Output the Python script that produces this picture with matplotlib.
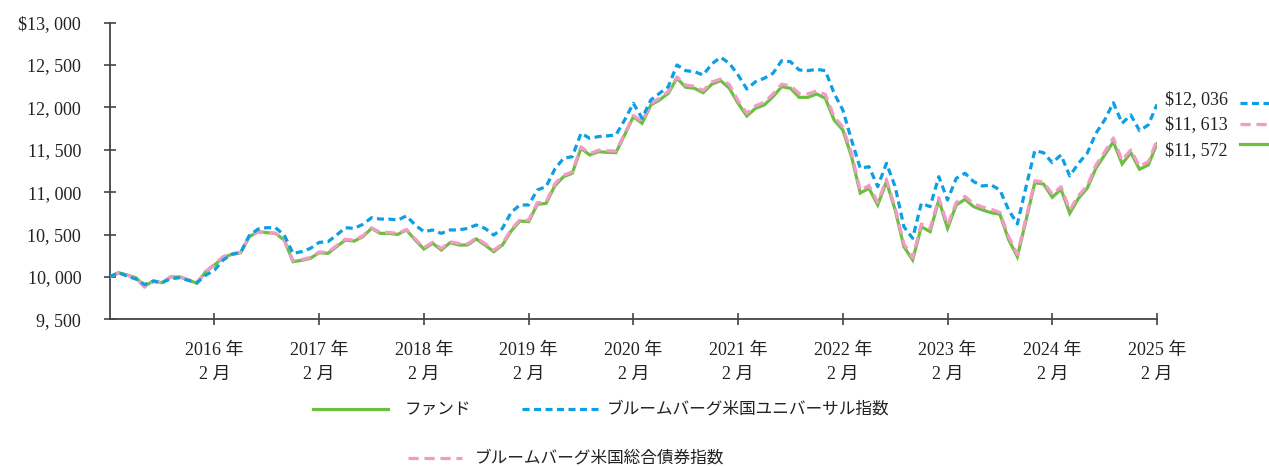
import numpy as np
import matplotlib
matplotlib.use("Agg")
import matplotlib.pyplot as plt
from matplotlib.lines import Line2D

# 月次データ (2015年2月 ~ 2025年2月)
fund = [10000, 10050, 10023, 9991, 9893, 9952, 9932, 10000, 10000, 9964,
        9925, 10062, 10141, 10227, 10267, 10286, 10475, 10534, 10522, 10514,
        10435, 10180, 10196, 10220, 10286, 10278, 10357, 10435, 10423, 10474,
        10573, 10514, 10514, 10502, 10554, 10436, 10330, 10397, 10318, 10404,
        10377, 10377, 10448, 10377, 10298, 10377, 10542, 10660, 10652, 10857,
        10868, 11075, 11183, 11223, 11518, 11439, 11478, 11470, 11466, 11675,
        11891, 11813, 12029, 12088, 12167, 12344, 12238, 12226, 12174, 12275,
        12316, 12226, 12049, 11899, 11990, 12029, 12127, 12245, 12226, 12119,
        12119, 12159, 12108, 11852, 11734, 11419, 10990, 11046, 10849, 11124,
        10790, 10357, 10200, 10593, 10534, 10908, 10574, 10849, 10916, 10829,
        10790, 10758, 10740, 10440, 10239, 10672, 11112, 11096, 10940, 11034,
        10751, 10928, 11046, 11282, 11439, 11596, 11333, 11466, 11270, 11321,
        11572]
aggregate = [10000, 10045, 10020, 9985, 9878, 9945, 9930, 10005, 10005, 9968,
             9935, 10065, 10150, 10240, 10275, 10290, 10480, 10530, 10525, 10515,
             10440, 10190, 10205, 10230, 10295, 10290, 10370, 10445, 10435, 10485,
             10580, 10525, 10525, 10515, 10560, 10450, 10345, 10410, 10335, 10415,
             10395, 10390, 10460, 10395, 10315, 10390, 10560, 10675, 10670, 10875,
             10885, 11100, 11200, 11240, 11535, 11455, 11495, 11490, 11485, 11690,
             11905, 11835, 12045, 12110, 12190, 12360, 12265, 12250, 12200, 12300,
             12335, 12270, 12080, 11930, 12020, 12060, 12160, 12275, 12255, 12165,
             12160, 12195, 12155, 11890, 11770, 11460, 11020, 11080, 10880, 11150,
             10815, 10390, 10225, 10625, 10570, 10935, 10610, 10880, 10950, 10865,
             10825, 10800, 10760, 10475, 10265, 10700, 11135, 11120, 10975, 11065,
             10790, 10960, 11075, 11320, 11475, 11640, 11375, 11500, 11305, 11360,
             11613]
universal = [10000, 10050, 10010, 9975, 9910, 9952, 9932, 9980, 9990, 9960,
             9932, 10020, 10080, 10200, 10267, 10286, 10490, 10565, 10581, 10581,
             10494, 10278, 10298, 10337, 10408, 10415, 10494, 10581, 10573, 10620,
             10699, 10683, 10683, 10671, 10720, 10613, 10534, 10554, 10514, 10554,
             10554, 10573, 10613, 10573, 10494, 10573, 10762, 10849, 10849, 11026,
             11065, 11272, 11400, 11419, 11695, 11636, 11656, 11664, 11675, 11852,
             12049, 11872, 12088, 12167, 12245, 12501, 12434, 12422, 12383, 12515,
             12592, 12521, 12383, 12218, 12304, 12344, 12403, 12552, 12540, 12442,
             12434, 12450, 12434, 12167, 11970, 11616, 11282, 11301, 11065, 11341,
             11065, 10593, 10456, 10869, 10829, 11183, 10908, 11164, 11223, 11124,
             11073, 11085, 11026, 10790, 10625, 11065, 11490, 11466, 11348, 11439,
             11191, 11341, 11459, 11695, 11852, 12056, 11813, 11911, 11726, 11793,
             12036]
end_labels = ["$12,036", "$11,613", "$11,572"]
years = list(range(2016, 2026))
y_ticks = [9500, 10000, 10500, 11000, 11500, 12000, 12500, 13000]

names = ["ファンド", "ブルームバーグ米国ユニバーサル指数", "ブルームバーグ米国総合債券指数"]

c_green = "#6cbf40"
c_blue = "#0c9fe4"
c_pink = "#f29bc6"
serif = ["Liberation Serif", "Noto Sans CJK JP"]
jp = ["Noto Sans CJK JP", "DejaVu Sans"]

fig = plt.figure(figsize=(12.69, 4.66), dpi=100)
ax = fig.add_axes([109.7 / 1269, 1 - 319.3 / 466, (1157 - 109.7) / 1269, (319.3 - 22.7) / 466])

x = np.arange(len(fund))
ax.plot(x, fund, color=c_green, lw=2.3, solid_joinstyle="miter", zorder=3)
l_pink, = ax.plot(x, aggregate, color=c_pink, lw=2.3, zorder=4)
l_pink.set_dashes((3.2, 1.8))
l_blue, = ax.plot(x, universal, color=c_blue, lw=2.3, zorder=5)
l_blue.set_dashes((2.2, 1.4))

ax.set_xlim(0, len(fund) - 1)
ax.set_ylim(9500, 13000)
ax.set_yticks(y_ticks)
ylabs = ["{:,}".format(v).replace(",", ", ") for v in y_ticks]
ylabs[-1] = "$" + ylabs[-1]
ax.set_yticklabels(ylabs, family=serif, fontsize=13, color="#222222")
ax.set_xticks([12 * (i + 1) for i in range(len(years))])
ax.set_xticklabels(["%d 年\n2 月" % y for y in years], family=serif, fontsize=13,
                   color="#222222", linespacing=1.55)

for s in ["top", "right"]:
    ax.spines[s].set_visible(False)
for s in ["left", "bottom"]:
    ax.spines[s].set_color("#444444")
    ax.spines[s].set_linewidth(1.3)
ax.tick_params(direction="inout", length=9, width=1.2, color="#444444")
ax.tick_params(axis="y", pad=16)
ax.tick_params(axis="x", pad=12)

# 右側の最終値ラベル
end_y = [100, 125, 151]
styles = [(c_blue, (2.2, 1.4)), (c_pink, (3.2, 1.8)), (c_green, None)]
sample_y = [103, 124, 144]
for lab, yy, sy, (col, dsh) in zip(end_labels, end_y, sample_y, styles):
    fig.text(1165 / 1269, 1 - yy / 466, lab.replace(",", ", "), family=serif,
             fontsize=13, color="#222222", va="center", ha="left")
    ln = Line2D([1240 / 1269, 1.0], [1 - sy / 466] * 2, transform=fig.transFigure,
                color=col, lw=2.3)
    if dsh:
        ln.set_dashes(dsh)
    fig.add_artist(ln)

# 凡例
leg = [(313, 388, 409, c_green, None, 405, names[0]),
       (522, 600, 409, c_blue, (2.2, 1.4), 607, names[1]),
       (408, 462, 458, c_pink, (3.2, 1.8), 475, names[2])]
for x0, x1, yy, col, dsh, tx, name in leg:
    ln = Line2D([x0 / 1269, x1 / 1269], [1 - yy / 466] * 2, transform=fig.transFigure,
                color=col, lw=2.3)
    if dsh:
        ln.set_dashes(dsh)
    fig.add_artist(ln)
    fig.text(tx / 1269, 1 - yy / 466, name, family=jp, fontsize=12,
             color="#222222", va="center", ha="left")

fig.savefig("out.png", dpi=100, facecolor="white")
